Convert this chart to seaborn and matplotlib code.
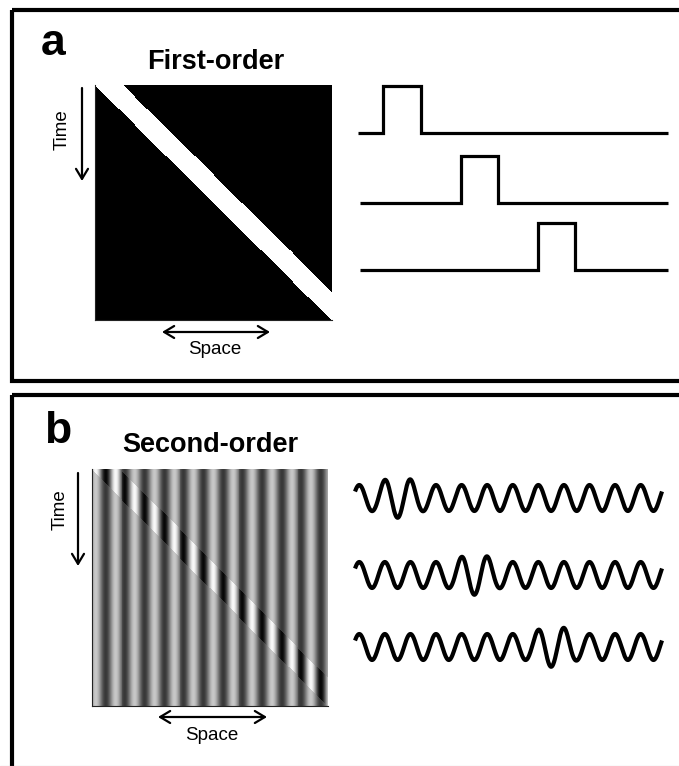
import numpy as np
import pandas as pd
import matplotlib
matplotlib.use("Agg")
import matplotlib.pyplot as plt
import seaborn as sns
from matplotlib.patches import Rectangle

# ---------------- data ----------------
panel_labels = ["a", "b"]
panel_titles = ["First-order", "Second-order"]
time_label = "Time"
space_label = "Space"

n_grid = 240                      # cells per side of the space-time plots
band_width = 0.12                 # width of the moving band (fraction of space)

# first-order: luminance pulses at three time snapshots
pulse_centers = [0.142, 0.389, 0.639]
pulse_width = 0.12

# second-order: contrast-modulated grating
grating_cycles = 12
grating_phase = -1.0 / 6.0        # in cycles
base_contrast = 0.28
band_contrast = 0.47
env_centers = [0.141, 0.391, 0.647]
env_gain = 0.52
env_halfwidth = 0.06

# ---------------- figure ----------------
sns.set_theme(style="white")
plt.rcParams["font.family"] = ["Liberation Sans", "DejaVu Sans"]
plt.rcParams["text.color"] = "black"

W, H = 679, 766
fig = plt.figure(figsize=(W / 100, H / 100), dpi=100)


def add_ax(x0, y0, x1, y1):
    """axes from pixel box (top-left origin)"""
    return fig.add_axes([x0 / W, 1 - y1 / H, (x1 - x0) / W, (y1 - y0) / H])


space = np.linspace(0, 1, n_grid)
time = np.linspace(0, 1, n_grid)
diff = space[None, :] - time[:, None]
band = (diff >= 0) & (diff <= band_width)

# ---- panel a heatmap
first_order = pd.DataFrame(band.astype(float))
ax_a = add_ax(95, 85, 332, 320)
sns.heatmap(first_order, cmap="gray", vmin=0, vmax=1, cbar=False,
            xticklabels=False, yticklabels=False, ax=ax_a, rasterized=True)

# ---- panel b heatmap
grating = np.cos(2 * np.pi * (grating_cycles * space + grating_phase))
contrast = np.where(band, band_contrast, base_contrast)
second_order = pd.DataFrame(0.5 + contrast * grating[None, :])
ax_b = add_ax(92, 469, 328, 706)
sns.heatmap(second_order, cmap="gray", vmin=0, vmax=1, cbar=False,
            xticklabels=False, yticklabels=False, ax=ax_b, rasterized=True)

for ax in (ax_a, ax_b):
    for side in ("left", "bottom"):
        ax.spines[side].set_visible(True)
        ax.spines[side].set_color("#222222")
        ax.spines[side].set_linewidth(0.8)

# ---- pulse traces (panel a)
pulse_rows = [(358, 133), (360, 203), (360, 270)]   # (left px, baseline px)
for (left, base), c in zip(pulse_rows, pulse_centers):
    ax = add_ax(left, base - 47, 668, base)
    s, e = c - pulse_width / 2, c + pulse_width / 2
    df = pd.DataFrame({"x": [0, s, s, e, e, 1], "y": [0, 0, 1, 1, 0, 0]})
    sns.lineplot(data=df, x="x", y="y", sort=False, estimator=None,
                 color="black", lw=2.3, ax=ax)
    for ln in ax.lines:
        ln.set_clip_on(False)
        ln.set_solid_joinstyle("miter")
        ln.set_solid_capstyle("butt")
    ax.set_xlim(0, 1)
    ax.set_ylim(0, 1)
    ax.axis("off")

# ---- modulated waves (panel b)
wave_rows = [498, 575, 647]
xs = np.linspace(0, 1, 1500)
carrier = np.cos(2 * np.pi * (grating_cycles * xs + grating_phase))
for center_px, c in zip(wave_rows, env_centers):
    env = 1 + env_gain * np.exp(-((xs - c) / env_halfwidth) ** 4)
    ax = add_ax(355, center_px - 20.8, 662, center_px + 20.8)
    sns.lineplot(x=xs, y=env * carrier, sort=False, estimator=None,
                 color="black", lw=3.0, ax=ax)
    for ln in ax.lines:
        ln.set_clip_on(False)
        ln.set_solid_capstyle("butt")
    ax.set_xlim(0, 1)
    ax.set_ylim(-1.6, 1.6)
    ax.axis("off")

# ---- overlay: borders, labels, arrows
ov = fig.add_axes([0, 0, 1, 1], zorder=10)
ov.set_xlim(0, W)
ov.set_ylim(H, 0)
ov.axis("off")
ov.patch.set_alpha(0)

ov.add_patch(Rectangle((12, 10), 720, 371, fill=False, lw=3.0, ec="black",
                       clip_on=False))
ov.add_patch(Rectangle((12, 394.5), 720, 420, fill=False, lw=3.0, ec="black",
                       clip_on=False))
ov.plot([0, W], [765.5, 765.5], color="#b5b5b5", lw=0.8)

ov.text(41, 55, panel_labels[0], fontsize=32, fontweight="bold",
        ha="left", va="baseline", color="black")
ov.text(44, 443, panel_labels[1], fontsize=32, fontweight="bold",
        ha="left", va="baseline", color="black")
ov.text(216, 69, panel_titles[0], fontsize=19.5, fontweight="bold",
        ha="center", va="baseline", color="black")
ov.text(210, 452, panel_titles[1], fontsize=19.5, fontweight="bold",
        ha="center", va="baseline", color="black")

arrow = dict(arrowstyle="->,head_length=0.4,head_width=0.24",
             lw=1.6, color="black", mutation_scale=18, shrinkA=0, shrinkB=0)
arrow2 = dict(arrowstyle="<->,head_length=0.4,head_width=0.24",
              lw=1.6, color="black", mutation_scale=18, shrinkA=0, shrinkB=0)

for (tx, ty0, ty1, lx, ly, sx0, sx1, sy, slx, sly) in [
        (82, 88, 181, 62, 130, 162, 270, 332, 215, 350),
        (78, 473, 566, 60, 510, 158, 267, 717, 212, 736)]:
    ov.annotate("", xy=(tx, ty1), xytext=(tx, ty0), arrowprops=arrow)
    ov.text(lx, ly, time_label, fontsize=13.5, rotation=90,
            ha="center", va="center", color="black")
    ov.annotate("", xy=(sx1, sy), xytext=(sx0, sy), arrowprops=arrow2)
    ov.text(slx, sly, space_label, fontsize=13.5, ha="center", va="center",
            color="black")

fig.savefig("out.png", dpi=100)
